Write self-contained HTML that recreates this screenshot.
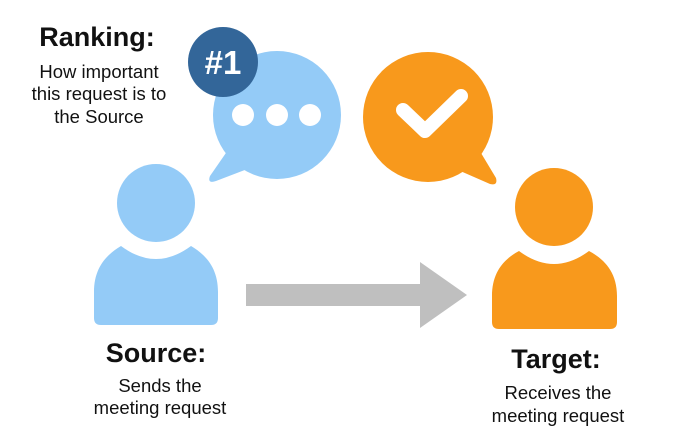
<!DOCTYPE html>
<html><head><meta charset="utf-8"><style>
html,body{margin:0;padding:0;background:#fff;}
svg{display:block;}
text{font-family:"Liberation Sans",sans-serif;fill:#111;text-anchor:middle;}
.h{font-weight:bold;font-size:27px;}
.t{font-size:18.5px;}
</style></head><body>
<svg width="687" height="446" viewBox="0 0 687 446">
<!-- blue bubble -->
<circle cx="277" cy="115" r="64" fill="#94cbf7"/>
<path d="M228,150 L210,176 Q207,184 216,181 L250,168 Z" fill="#94cbf7"/>
<circle cx="243" cy="115" r="11" fill="#fff"/>
<circle cx="277" cy="115" r="11" fill="#fff"/>
<circle cx="310" cy="115" r="11" fill="#fff"/>
<circle cx="223" cy="62" r="35" fill="#336699"/>
<text x="223" y="74" style="font-weight:bold;font-size:33px;fill:#fff">#1</text>
<!-- orange bubble -->
<circle cx="428" cy="117" r="65" fill="#f8991c"/>
<path d="M478,148 L496,178 Q498,186 490,184 L458,170 Z" fill="#f8991c"/>
<path d="M403,110 L425,131 L461,96" fill="none" stroke="#fff" stroke-width="14" stroke-linecap="round" stroke-linejoin="round"/>
<!-- source person -->
<circle cx="156" cy="203" r="39" fill="#94cbf7"/>
<path d="M101,325 Q94,325 94,318 L94,292 C94,268 106,255 121,246 Q156,272 191,246 C206,255 218,268 218,292 L218,318 Q218,325 211,325 Z" fill="#94cbf7"/>
<!-- target person -->
<circle cx="554" cy="207" r="39" fill="#f8991c"/>
<path d="M499,329 Q492,329 492,322 L492,296 C492,272 504,259 519,251 Q554,277 589,251 C604,259 617,272 617,296 L617,322 Q617,329 610,329 Z" fill="#f8991c"/>
<!-- arrow -->
<path d="M246,284 L420,284 L420,262 L467,295 L420,328 L420,306 L246,306 Z" fill="#bfbfbf"/>
<!-- texts -->
<text class="h" x="97" y="46">Ranking:</text>
<text class="t" x="99" y="78">How important</text>
<text class="t" x="99" y="100">this request is to</text>
<text class="t" x="99" y="123">the Source</text>
<text class="h" x="156" y="362">Source:</text>
<text class="t" x="160" y="392">Sends the</text>
<text class="t" x="160" y="414">meeting request</text>
<text class="h" x="556" y="368">Target:</text>
<text class="t" x="558" y="399">Receives the</text>
<text class="t" x="558" y="422">meeting request</text>
</svg>
</body></html>
